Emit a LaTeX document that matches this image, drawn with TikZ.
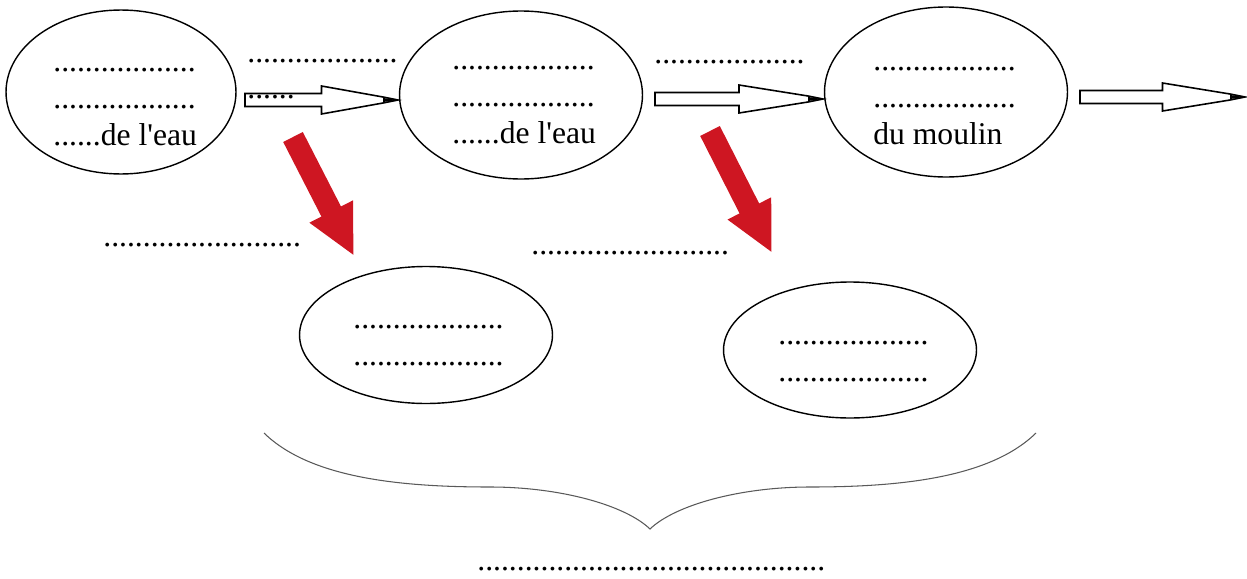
\documentclass[tikz,border=0pt]{standalone}
\usepackage{fontspec}
\setmainfont{Liberation Serif}
\usetikzlibrary{shapes.geometric, arrows.meta, calc}

\definecolor{rougefleche}{RGB}{206,22,34}
\newcommand{\pointilles}[1]{\foreach \i in {1,...,#1}{.}}
\newcommand{\flechecreuse}[2]{%
  \draw[creuse] ($(#1)+(0,-6.5)$) -- ($(#1)!0.5!(#2)+(0,-6.5)$) -- ($(#1)!0.5!(#2)+(0,-14)$)
    -- ($(#2)+(-15,-3)$) -- (#2) -- ($(#2)+(-15,3)$) -- ($(#1)!0.5!(#2)+(0,14)$)
    -- ($(#1)!0.5!(#2)+(0,6.5)$) -- ($(#1)+(0,6.5)$) -- cycle;
  \fill ($(#2)+(-15,-2)$) -- (#2) -- ($(#2)+(-15,2)$) -- cycle;}

\begin{document}
\begin{tikzpicture}[
  x=0.02cm, y=-0.02cm,
  bulle/.style={draw, ellipse, line width=0.8pt, inner sep=0pt},
  texte/.style={font=\fontsize{18}{20.8}\selectfont, align=left, anchor=base west, inner sep=0pt},
  creuse/.style={draw, line width=0.9pt, fill=white},
  rouge/.style={draw=rougefleche, line width=0.44cm, -{Triangle[length=1cm, width=0.9cm]}},
  accolade/.style={draw=gray!70!black, line width=0.6pt}
]
\useasboundingbox (0,0) rectangle (1247,578);

\node[bulle, minimum width=4.6cm, minimum height=3.28cm] (e1) at (121,92) {};
\node[bulle, minimum width=4.86cm, minimum height=3.36cm] (e2) at (521,95) {};
\node[bulle, minimum width=4.86cm, minimum height=3.4cm] (e3) at (946,92) {};
\node[bulle, minimum width=5.06cm, minimum height=2.74cm] (e4) at (426,335) {};
\node[bulle, minimum width=5.06cm, minimum height=2.72cm] (e5) at (850,350) {};

\node[texte] (t1) at (53,145) {\pointilles{18}\\ \pointilles{18}\\ \pointilles{6}de l\textquotesingle eau};
\node[texte] (t2) at (452,143) {\pointilles{18}\\ \pointilles{18}\\ \pointilles{6}de l\textquotesingle eau};
\node[texte] (t3) at (873,144) {\pointilles{18}\\ \pointilles{18}\\ du moulin};
\node[texte] (t4) at (353,365) {\pointilles{19}\\ \pointilles{19}};
\node[texte] (t5) at (778,381) {\pointilles{19}\\ \pointilles{19}};

\coordinate (h1a) at (245,100);
\coordinate (h1b) at (398,100);
\coordinate (h2a) at (655,99);
\coordinate (h2b) at (823,99);
\coordinate (h3a) at (1080,97);
\coordinate (h3b) at (1245,97);
\flechecreuse{h1a}{h1b}
\flechecreuse{h2a}{h2b}
\flechecreuse{h3a}{h3b}

\node[texte] (f1) at (247,62) {\pointilles{19}};
\node[texte] (f2) at (247,98) {\pointilles{6}};
\node[texte] (f3) at (654,63) {\pointilles{19}};
\node[texte] (f4) at (103,246) {\pointilles{25}};
\node[texte] (f5) at (531,254) {\pointilles{25}};
\node[texte] (f6) at (477,570) {\pointilles{44}};

\coordinate (r1a) at (293,137);
\coordinate (r1b) at (354,256);
\coordinate (r2a) at (710,131);
\coordinate (r2b) at (772,253);
\draw[rouge] (r1a) -- (r1b);
\draw[rouge] (r2a) -- (r2b);

\draw[accolade] (264,433) .. controls (310,478) and (400,487) .. (490,487)
  .. controls (560,487) and (625,505) .. (650,529)
  .. controls (675,505) and (740,487) .. (810,487)
  .. controls (900,487) and (990,478) .. (1036,433);
\end{tikzpicture}
\end{document}
